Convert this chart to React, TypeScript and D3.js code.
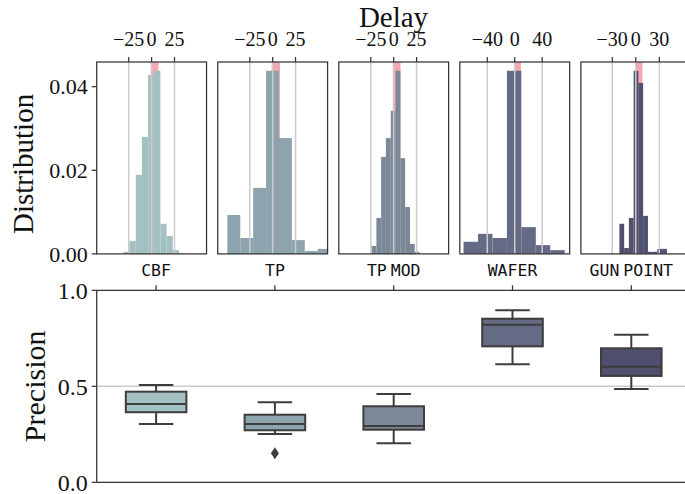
import React from "react";
import * as d3 from "d3";

// Datasets, in panel order
const datasets = ["CBF", "TP", "TP MOD", "WAFER", "GUN POINT"];
const colors = ["#a3c0c2", "#8da3ae", "#7a8898", "#666b85", "#4f4f6e"];

// Delay histograms: bin edges and density per dataset
const cbfEdges = [-30.8, -24.1, -17.3, -10.6, -3.8, 2.9, 9.6, 16.4, 23.1, 29.9, 36.6];
const cbfDensity = [0.0005, 0.0031, 0.0189, 0.028, 0.0428, 0.0438, 0.0072, 0.0043, 0.0009, 0.0002];
const tpEdges = [-49.5, -35.4, -21.3, -7.2, 6.9, 21.0, 35.1, 49.2, 63.3];
const tpDensity = [0.0093, 0.0038, 0.0158, 0.0438, 0.0277, 0.0033, 0.0007, 0.0012];
const tpModEdges = [-24.2, -18.9, -13.7, -8.5, -3.2, 2.0, 7.3, 12.5, 17.8, 23.0, 28.2];
const tpModDensity = [0.0019, 0.0086, 0.0232, 0.0277, 0.0342, 0.0438, 0.0229, 0.0112, 0.0024, 0.0005];
const waferEdges = [-74.6, -53.5, -32.5, -11.4, 9.6, 30.7, 51.7, 72.8];
const waferDensity = [0.0029, 0.0048, 0.0038, 0.0438, 0.0064, 0.0021, 0.0009];
const gunEdges = [-20.9, -14.8, -8.8, -2.7, 3.3, 9.4, 15.5, 21.5, 27.6, 33.6, 39.7];
const gunDensity = [0.0072, 0.0014, 0.0086, 0.0438, 0.0409, 0.0091, 0.0005, 0.0005, 0.0012, 0.0012];

const histEdges = [cbfEdges, tpEdges, tpModEdges, waferEdges, gunEdges];
const histDensity = [cbfDensity, tpDensity, tpModDensity, waferDensity, gunDensity];

// Delay axis per panel
const delayDomains: [number, number][] = [[-60, 60], [-60, 60], [-60, 60], [-80, 80], [-70, 70]];
const delayTicks = [[-25, 0, 25], [-25, 0, 25], [-25, 0, 25], [-40, 0, 40], [-30, 0, 30]];
// Highlighted zero-delay band
const zeroBand: [number, number][] = [[-1, 7.5], [-1, 8], [-1, 7.5], [0, 9], [0, 8.5]];
const densityTicks = [0, 0.02, 0.04];

// Precision box statistics
const whiskerLow = [0.304, 0.252, 0.203, 0.615, 0.486];
const q1 = [0.365, 0.271, 0.274, 0.708, 0.554];
const median = [0.408, 0.304, 0.293, 0.821, 0.602];
const q3 = [0.472, 0.352, 0.396, 0.852, 0.698];
const whiskerHigh = [0.507, 0.417, 0.46, 0.896, 0.769];
const outliers = [[], [0.151], [], [], []];
const precisionTicks = [0, 0.5, 1];

const W = 685;
const H = 494;
const left = 96.7;
const right = 690.7;
const histTop = 62;
const histBottom = 253.9;
const boxTop = 290.3;
const boxBottom = 482.3;
const gap = 11.2;
const panelW = (right - left - gap * 4) / 5;

const spine = "#333333";
const grid = "#cccccc";
const edge = "#3d3d3d";
const serif = "'Liberation Serif', 'Times New Roman', serif";
const mono = "'DejaVu Sans Mono', monospace";

export default function App() {
  const yHist = d3.scaleLinear().domain([0, 0.0459]).range([histBottom, histTop]);
  const xCat = d3.scaleBand().domain(datasets).range([left, right]);
  const yBox = d3.scaleLinear().domain([0, 1]).range([boxBottom, boxTop]);
  const boxW = xCat.bandwidth() * 0.51;
  const capW = xCat.bandwidth() * 0.29;
  const fmt2 = d3.format(".2f");
  const fmt1 = d3.format(".1f");
  const tickFmt = (v: number) => (v < 0 ? "\u2212" + Math.abs(v) : String(v));

  return (
    <svg width={W} height={H} style={{ position: "absolute", left: 0, top: 0, background: "#fff" }}>
      {/* Histogram panels */}
      {datasets.map((name, i) => {
        const x0 = left + i * (panelW + gap);
        const x = d3.scaleLinear().domain(delayDomains[i]).range([x0, x0 + panelW]);
        const edges = histEdges[i];
        const dens = histDensity[i];
        const clipId = `clip-${i}`;
        return (
          <g key={name}>
            <clipPath id={clipId}>
              <rect x={x0} y={histTop} width={panelW} height={histBottom - histTop} />
            </clipPath>
            <g clipPath={`url(#${clipId})`}>
              <rect
                x={x(zeroBand[i][0])}
                y={histTop}
                width={x(zeroBand[i][1]) - x(zeroBand[i][0])}
                height={histBottom - histTop}
                fill="#f7a7b1"
              />
              {dens.map((d, k) => (
                <rect
                  key={k}
                  x={x(edges[k])}
                  y={yHist(d)}
                  width={x(edges[k + 1]) - x(edges[k])}
                  height={histBottom - yHist(d)}
                  fill={colors[i]}
                />
              ))}
              {delayTicks[i].map((t) => (
                <line key={t} x1={x(t)} x2={x(t)} y1={histTop} y2={histBottom} stroke={grid} strokeWidth={1.5} />
              ))}
            </g>
            <rect x={x0} y={histTop} width={panelW} height={histBottom - histTop} fill="none" stroke={spine} strokeWidth={1.25} />
            {delayTicks[i].map((t) => (
              <g key={t}>
                <line x1={x(t)} x2={x(t)} y1={histTop} y2={histTop - 5} stroke={spine} strokeWidth={1.25} />
                <text x={x(t)} y={46} textAnchor="middle" fontFamily={serif} fontSize={20} fill="#111">
                  {tickFmt(t)}
                </text>
              </g>
            ))}
          </g>
        );
      })}
      {densityTicks.map((t) => (
        <g key={t}>
          <line x1={left} x2={left - 5} y1={yHist(t)} y2={yHist(t)} stroke={spine} strokeWidth={1.25} />
          <text x={left - 9} y={yHist(t)} dy="0.35em" textAnchor="end" fontFamily={serif} fontSize={22} fill="#111">
            {fmt2(t)}
          </text>
        </g>
      ))}
      <text x={393.5} y={27} textAnchor="middle" fontFamily={serif} fontSize={29} fill="#111">
        Delay
      </text>
      <text transform={`translate(23,${(histTop + histBottom) / 2 + 6}) rotate(-90)`} textAnchor="middle" dy="0.35em" fontFamily={serif} fontSize={29} fill="#111">
        Distribution
      </text>

      {/* Precision box plot */}
      <line x1={left} x2={right} y1={yBox(0.5)} y2={yBox(0.5)} stroke={grid} strokeWidth={1.5} />
      <line x1={left} x2={right} y1={boxTop} y2={boxTop} stroke={spine} strokeWidth={1.25} />
      <line x1={left} x2={right} y1={boxBottom} y2={boxBottom} stroke={spine} strokeWidth={1.25} />
      <line x1={left} x2={left} y1={boxTop} y2={boxBottom} stroke={spine} strokeWidth={1.25} />
      {precisionTicks.map((t) => (
        <g key={t}>
          <line x1={left} x2={left - 5} y1={yBox(t)} y2={yBox(t)} stroke={spine} strokeWidth={1.25} />
          <text x={left - 9} y={yBox(t)} dy="0.35em" textAnchor="end" fontFamily={serif} fontSize={24} fill="#111">
            {fmt1(t)}
          </text>
        </g>
      ))}
      <text transform={`translate(34,${(boxTop + boxBottom) / 2}) rotate(-90)`} textAnchor="middle" dy="0.35em" fontFamily={serif} fontSize={30} fill="#111">
        Precision
      </text>
      {datasets.map((name, i) => {
        const cx = (xCat(name) as number) + xCat.bandwidth() / 2;
        return (
          <g key={name}>
            <line x1={cx} x2={cx} y1={boxTop} y2={boxTop - 5} stroke={spine} strokeWidth={1.25} />
            <text x={cx} y={276} textAnchor="middle" fontFamily={mono} fontSize={16.5} wordSpacing={-6} fill="#111">
              {name}
            </text>
            <line x1={cx} x2={cx} y1={yBox(whiskerLow[i])} y2={yBox(q1[i])} stroke={edge} strokeWidth={2} />
            <line x1={cx} x2={cx} y1={yBox(q3[i])} y2={yBox(whiskerHigh[i])} stroke={edge} strokeWidth={2} />
            <line x1={cx - capW / 2} x2={cx + capW / 2} y1={yBox(whiskerLow[i])} y2={yBox(whiskerLow[i])} stroke={edge} strokeWidth={2} />
            <line x1={cx - capW / 2} x2={cx + capW / 2} y1={yBox(whiskerHigh[i])} y2={yBox(whiskerHigh[i])} stroke={edge} strokeWidth={2} />
            <rect
              x={cx - boxW / 2}
              y={yBox(q3[i])}
              width={boxW}
              height={yBox(q1[i]) - yBox(q3[i])}
              fill={colors[i]}
              stroke={edge}
              strokeWidth={2}
            />
            <line x1={cx - boxW / 2} x2={cx + boxW / 2} y1={yBox(median[i])} y2={yBox(median[i])} stroke={edge} strokeWidth={2} />
            {outliers[i].map((o, k) => (
              <path
                key={k}
                d={`M${cx},${yBox(o) - 6} L${cx + 4},${yBox(o)} L${cx},${yBox(o) + 6} L${cx - 4},${yBox(o)} Z`}
                fill={edge}
              />
            ))}
          </g>
        );
      })}
    </svg>
  );
}
